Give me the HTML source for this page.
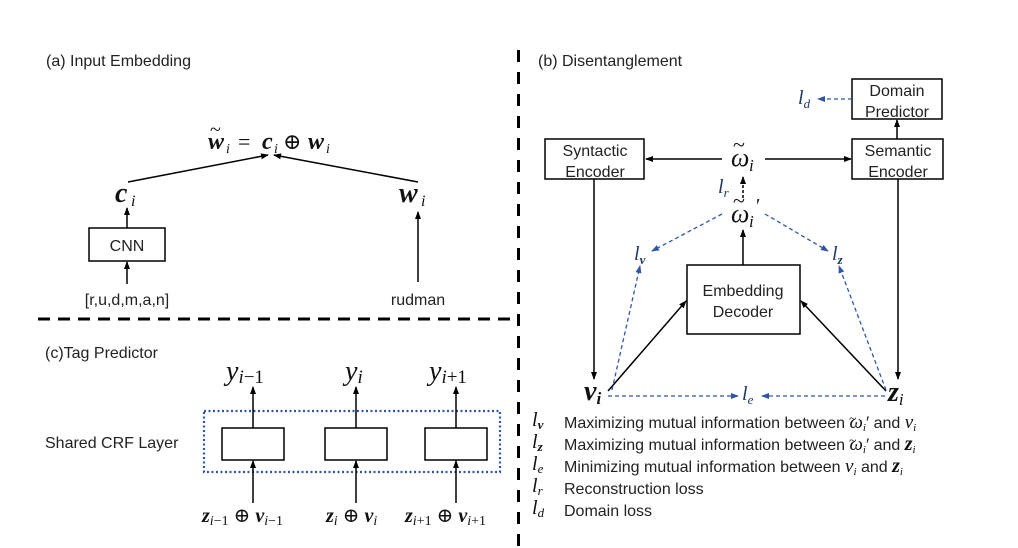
<!DOCTYPE html>
<html><head><meta charset="utf-8"><style>
html,body{margin:0;padding:0;background:#fff;}
svg{display:block;}
.t{font-family:"Liberation Sans","Noto Sans CJK SC",sans-serif;fill:#222;}
.m{font-family:"Liberation Serif","DejaVu Serif",serif;font-style:italic;fill:#111;}
.b{font-family:"Liberation Serif","DejaVu Serif",serif;font-style:italic;font-weight:bold;fill:#111;}
.n{font-family:"Liberation Serif","DejaVu Serif",serif;fill:#111;}
.l{font-family:"Liberation Serif","DejaVu Serif",serif;font-style:italic;fill:#1f3864;}
</style></head><body>
<svg width="1018" height="548" viewBox="0 0 1018 548" xmlns="http://www.w3.org/2000/svg">
<defs>
<marker id="ak" markerWidth="8" markerHeight="8" refX="7" refY="4" orient="auto" markerUnits="userSpaceOnUse"><path d="M0,1 L8,4 L0,7 z" fill="#000"/></marker>
<marker id="ab" markerWidth="8" markerHeight="8" refX="7" refY="4" orient="auto" markerUnits="userSpaceOnUse"><path d="M0,1 L8,4 L0,7 z" fill="#2f56a6"/></marker>
</defs>
<line x1="518.5" y1="50" x2="518.5" y2="548" stroke="#000" stroke-width="3" stroke-dasharray="12,10"/>
<line x1="38" y1="319" x2="520" y2="319" stroke="#000" stroke-width="3" stroke-dasharray="12,8"/>

<!-- (a) -->
<text class="t" x="46" y="66" font-size="16">(a) Input Embedding</text>
<text class="b" x="208" y="149" font-size="24">w</text>
<text class="n" x="210" y="136" font-size="20">~</text>
<text class="m" x="226" y="153" font-size="14">i</text>
<text class="n" x="238" y="149" font-size="22">=</text>
<text class="b" x="262" y="149" font-size="24">c</text>
<text class="m" x="274" y="153" font-size="14">i</text>
<text class="n" x="283" y="149" font-size="22">⊕</text>
<text class="b" x="308" y="149" font-size="24">w</text>
<text class="m" x="326" y="153" font-size="14">i</text>
<line x1="128" y1="182" x2="268" y2="155" stroke="#000" stroke-width="1.5" marker-end="url(#ak)"/>
<line x1="418" y1="182" x2="274" y2="155" stroke="#000" stroke-width="1.5" marker-end="url(#ak)"/>
<text class="b" x="115" y="202" font-size="28">c</text><text class="m" x="131" y="206" font-size="16">i</text>
<text class="b" x="399" y="202" font-size="28">w</text><text class="m" x="421" y="206" font-size="16">i</text>
<rect x="89" y="228" width="76" height="33" fill="#fff" stroke="#000" stroke-width="1.5"/>
<text class="t" x="127" y="251" font-size="16" text-anchor="middle">CNN</text>
<line x1="127" y1="228" x2="127" y2="208" stroke="#000" stroke-width="1.5" marker-end="url(#ak)"/>
<line x1="127" y1="284" x2="127" y2="262" stroke="#000" stroke-width="1.5" marker-end="url(#ak)"/>
<line x1="418" y1="282" x2="418" y2="212" stroke="#000" stroke-width="1.5" marker-end="url(#ak)"/>
<text class="t" x="127" y="305" font-size="16" text-anchor="middle">[r,u,d,m,a,n]</text>
<text class="t" x="418" y="305" font-size="16" text-anchor="middle">rudman</text>

<!-- (c) -->
<text class="t" x="45" y="358" font-size="16">(c)Tag Predictor</text>
<text class="t" x="45" y="448" font-size="16">Shared CRF Layer</text>
<rect x="204" y="411" width="296" height="61" fill="none" stroke="#2f56a6" stroke-width="2.2" stroke-dasharray="2,2.5"/>
<g stroke="#000" stroke-width="1.5" fill="#fff">
<rect x="222" y="428" width="62" height="32"/><rect x="325" y="428" width="62" height="32"/><rect x="425" y="428" width="62" height="32"/>
</g>
<g stroke="#000" stroke-width="1.5">
<line x1="253" y1="428" x2="253" y2="387" marker-end="url(#ak)"/>
<line x1="356" y1="428" x2="356" y2="387" marker-end="url(#ak)"/>
<line x1="456" y1="428" x2="456" y2="387" marker-end="url(#ak)"/>
<line x1="253" y1="503" x2="253" y2="461" marker-end="url(#ak)"/>
<line x1="356" y1="503" x2="356" y2="461" marker-end="url(#ak)"/>
<line x1="456" y1="503" x2="456" y2="461" marker-end="url(#ak)"/>
</g>
<text class="m" x="226" y="380" font-size="28">y<tspan font-size="19" dy="3">i</tspan><tspan class="n" font-style="normal" font-size="19">−1</tspan></text>
<text class="m" x="345" y="380" font-size="28">y<tspan font-size="19" dy="3">i</tspan></text>
<text class="m" x="429" y="380" font-size="28">y<tspan font-size="19" dy="3">i</tspan><tspan font-style="normal" font-size="19">+1</tspan></text>
<text class="b" x="202" y="522" font-size="20">z<tspan font-size="14" dy="3" font-weight="normal">i</tspan><tspan font-size="14" font-weight="normal" font-style="normal">−1</tspan><tspan dy="-3" font-weight="normal" font-style="normal"> ⊕ </tspan>v<tspan font-size="14" dy="3" font-weight="normal">i</tspan><tspan font-size="14" font-weight="normal" font-style="normal">−1</tspan></text>
<text class="b" x="326" y="522" font-size="20">z<tspan font-size="14" dy="3" font-weight="normal">i</tspan><tspan dy="-3" font-weight="normal" font-style="normal"> ⊕ </tspan>v<tspan font-size="14" dy="3" font-weight="normal">i</tspan></text>
<text class="b" x="405" y="522" font-size="20">z<tspan font-size="14" dy="3" font-weight="normal">i</tspan><tspan font-size="14" font-weight="normal" font-style="normal">+1</tspan><tspan dy="-3" font-weight="normal" font-style="normal"> ⊕ </tspan>v<tspan font-size="14" dy="3" font-weight="normal">i</tspan><tspan font-size="14" font-weight="normal" font-style="normal">+1</tspan></text>

<!-- (b) -->
<text class="t" x="538" y="66" font-size="16">(b) Disentanglement</text>
<g stroke="#000" stroke-width="1.5" fill="#fff">
<rect x="852" y="79" width="90" height="40"/>
<rect x="545" y="139" width="99" height="40"/>
<rect x="852" y="139" width="91" height="40"/>
<rect x="687" y="265" width="113" height="69"/>
</g>
<g class="t" font-size="16" text-anchor="middle">
<text x="897" y="96">Domain</text><text x="897" y="117">Predictor</text>
<text x="595" y="156">Syntactic</text><text x="595" y="177">Encoder</text>
<text x="898" y="156">Semantic</text><text x="898" y="177">Encoder</text>
<text x="743" y="296">Embedding</text><text x="743" y="317">Decoder</text>
</g>
<g stroke="#000" stroke-width="1.5">
<line x1="722" y1="159" x2="646" y2="159" marker-end="url(#ak)"/>
<line x1="765" y1="159" x2="851" y2="159" marker-end="url(#ak)"/>
<line x1="897" y1="139" x2="897" y2="120" marker-end="url(#ak)"/>
<line x1="743" y1="265" x2="743" y2="230" marker-end="url(#ak)"/>
<line x1="594" y1="179" x2="594" y2="379" marker-end="url(#ak)"/>
<line x1="898" y1="179" x2="898" y2="379" marker-end="url(#ak)"/>
<line x1="608" y1="391" x2="686" y2="301" marker-end="url(#ak)"/>
<line x1="886" y1="391" x2="801" y2="301" marker-end="url(#ak)"/>
<line x1="743" y1="198" x2="743" y2="177" stroke-dasharray="3,2" marker-end="url(#ak)"/>
</g>
<g stroke="#2f56a6" stroke-width="1.3" stroke-dasharray="4,3">
<line x1="852" y1="99" x2="818" y2="99" marker-end="url(#ab)"/>
<line x1="722" y1="214" x2="652" y2="251" marker-end="url(#ab)"/>
<line x1="765" y1="214" x2="828" y2="251" marker-end="url(#ab)"/>
<line x1="612" y1="390" x2="640" y2="266" marker-end="url(#ab)"/>
<line x1="886" y1="390" x2="839" y2="266" marker-end="url(#ab)"/>
<line x1="608" y1="396" x2="738" y2="396" marker-end="url(#ab)"/>
<line x1="885" y1="396" x2="762" y2="396" marker-end="url(#ab)"/>
</g>
<!-- omega tilde -->
<text class="m" x="731" y="166" font-size="26">ω</text>
<text class="n" x="733" y="152" font-size="22">~</text>
<text class="m" x="749" y="171" font-size="17" fill="#7a4a1a">i</text>
<text class="m" x="731" y="222" font-size="26">ω</text>
<text class="n" x="733" y="208" font-size="22">~</text>
<text class="m" x="749" y="227" font-size="17" fill="#7a4a1a">i</text>
<text class="n" x="756" y="212" font-size="20">′</text>

<text class="l" x="798" y="104" font-size="20">l<tspan font-size="13" dy="4">d</tspan></text>
<text class="l" x="718" y="193" font-size="20">l<tspan font-size="13" dy="4">r</tspan></text>
<text class="l" x="634" y="260" font-size="20">l<tspan font-size="13" dy="4" font-weight="bold">v</tspan></text>
<text class="l" x="832" y="260" font-size="20">l<tspan font-size="13" dy="4" font-weight="bold">z</tspan></text>
<text class="l" x="742" y="400" font-size="20">l<tspan font-size="13" dy="4">e</tspan></text>
<text class="b" x="584" y="400" font-size="28" font-weight="normal">v<tspan font-size="17" dy="4">i</tspan></text>
<text class="b" x="888" y="401" font-size="28">z<tspan font-size="17" dy="4" font-weight="normal">i</tspan></text>

<!-- legend -->
<g font-size="16">
<text class="m" x="532" y="426" font-size="20">l<tspan font-size="13" dy="3" font-weight="bold">v</tspan></text>
<text class="t" x="564" y="428">Maximizing mutual information between <tspan class="m" font-size="19">ω</tspan><tspan class="m" font-size="11" dy="3">i</tspan><tspan dy="-3" font-size="17">′</tspan> and <tspan class="m" font-size="19">v</tspan><tspan class="m" font-size="11" dy="3">i</tspan></text>
<text class="m" x="532" y="448" font-size="20">l<tspan font-size="13" dy="3" font-weight="bold">z</tspan></text>
<text class="t" x="564" y="450">Maximizing mutual information between <tspan class="m" font-size="19">ω</tspan><tspan class="m" font-size="11" dy="3">i</tspan><tspan dy="-3" font-size="17">′</tspan> and <tspan class="b" font-size="20">z</tspan><tspan class="m" font-size="11" dy="3">i</tspan></text>
<text class="m" x="532" y="470" font-size="20">l<tspan font-size="13" dy="3">e</tspan></text>
<text class="t" x="564" y="472">Minimizing mutual information between <tspan class="m" font-size="19">v</tspan><tspan class="m" font-size="11" dy="3">i</tspan><tspan dy="-3"> and </tspan><tspan class="b" font-size="20">z</tspan><tspan class="m" font-size="11" dy="3">i</tspan></text>
<text class="m" x="532" y="492" font-size="20">l<tspan font-size="13" dy="3">r</tspan></text>
<text class="t" x="564" y="494">Reconstruction loss</text>
<text class="m" x="532" y="514" font-size="20">l<tspan font-size="13" dy="3">d</tspan></text>
<text class="t" x="564" y="516">Domain loss</text>
</g>
<!-- legend tildes -->
<text class="n" x="849" y="423" font-size="14">~</text>
<text class="n" x="849" y="445" font-size="14">~</text>
</svg>
</body></html>
